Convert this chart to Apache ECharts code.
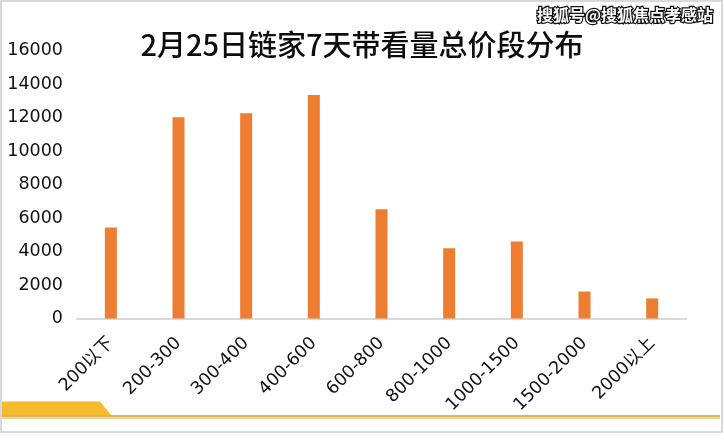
<!DOCTYPE html>
<html>
<head>
<meta charset="utf-8">
<script src="https://cdn.jsdelivr.net/npm/echarts@6/dist/echarts.min.js"></script>
<style>
html,body{margin:0;padding:0;background:#fff;}
#chart{width:724px;height:444px;}
</style>
</head>
<body>
<div id="chart"></div>
<script>
const titleText = '2月25日链家7天带看量总价段分布';
const watermarkText = '搜狐号@搜狐焦点孝感站';
const categories = ['200以下','200-300','300-400','400-600','600-800','800-1000','1000-1500','1500-2000','2000以上'];
const values = [5440, 12020, 12260, 13340, 6520, 4190, 4600, 1610, 1200];
const yMin = 0, yMax = 16000, yStep = 2000;

const chart = echarts.init(document.getElementById('chart'), null, {renderer: 'canvas'});
const labelFont = '"DejaVu Sans", "Noto Sans CJK SC", sans-serif';
chart.setOption({
  animation: false,
  backgroundColor: '#ffffff',
  title: {
    text: titleText,
    left: 'center',
    top: 22,
    textStyle: {fontFamily: '"Noto Sans CJK SC", sans-serif', fontSize: 29, fontWeight: 500, color: '#0d0d0d', lineHeight: 36}
  },
  grid: {left: 77, right: 38, top: 50.5, bottom: 125.5, containLabel: false},
  xAxis: {
    type: 'category',
    data: categories,
    axisLine: {show: true, lineStyle: {color: '#d9d9d9', width: 2}},
    axisTick: {show: false},
    axisLabel: {rotate: 45, margin: 22, fontFamily: labelFont, fontSize: 17.5, color: '#111', interval: 0}
  },
  yAxis: {
    type: 'value',
    min: yMin, max: yMax, interval: yStep,
    axisLine: {show: false},
    axisTick: {show: false},
    splitLine: {show: false},
    axisLabel: {margin: 14, fontFamily: labelFont, fontSize: 17.5, color: '#111', formatter: v => String(v)}
  },
  series: [{
    type: 'bar',
    data: values,
    barWidth: 12,
    itemStyle: {color: '#ed7d31'}
  }],
  graphic: [
    {type: 'rect', silent: true, z: -1, shape: {x: 1, y: 1, width: 721, height: 431}, style: {fill: 'none', stroke: '#d9d9d9', lineWidth: 2}},
    {type: 'polygon', silent: true, shape: {points: [[2, 401.5], [100, 401.5], [111.5, 415.5], [2, 415.5]]}, style: {fill: '#f5bb2e'}},
    {type: 'rect', silent: true, shape: {x: 2, y: 415, width: 718, height: 2}, style: {fill: '#d8b865'}},
    {type: 'rect', silent: true, shape: {x: 2, y: 417, width: 718, height: 2}, style: {fill: '#f0d48a'}},
    {type: 'text', silent: true, z: 100, style: {text: watermarkText, x: 713, y: 15, align: 'right', verticalAlign: 'middle', fontFamily: '"Noto Sans CJK SC", sans-serif', fontSize: 16, fontWeight: 'bold', fill: '#ffffff', stroke: '#111', lineWidth: 2.5}}
  ]
});
</script>
</body>
</html>
